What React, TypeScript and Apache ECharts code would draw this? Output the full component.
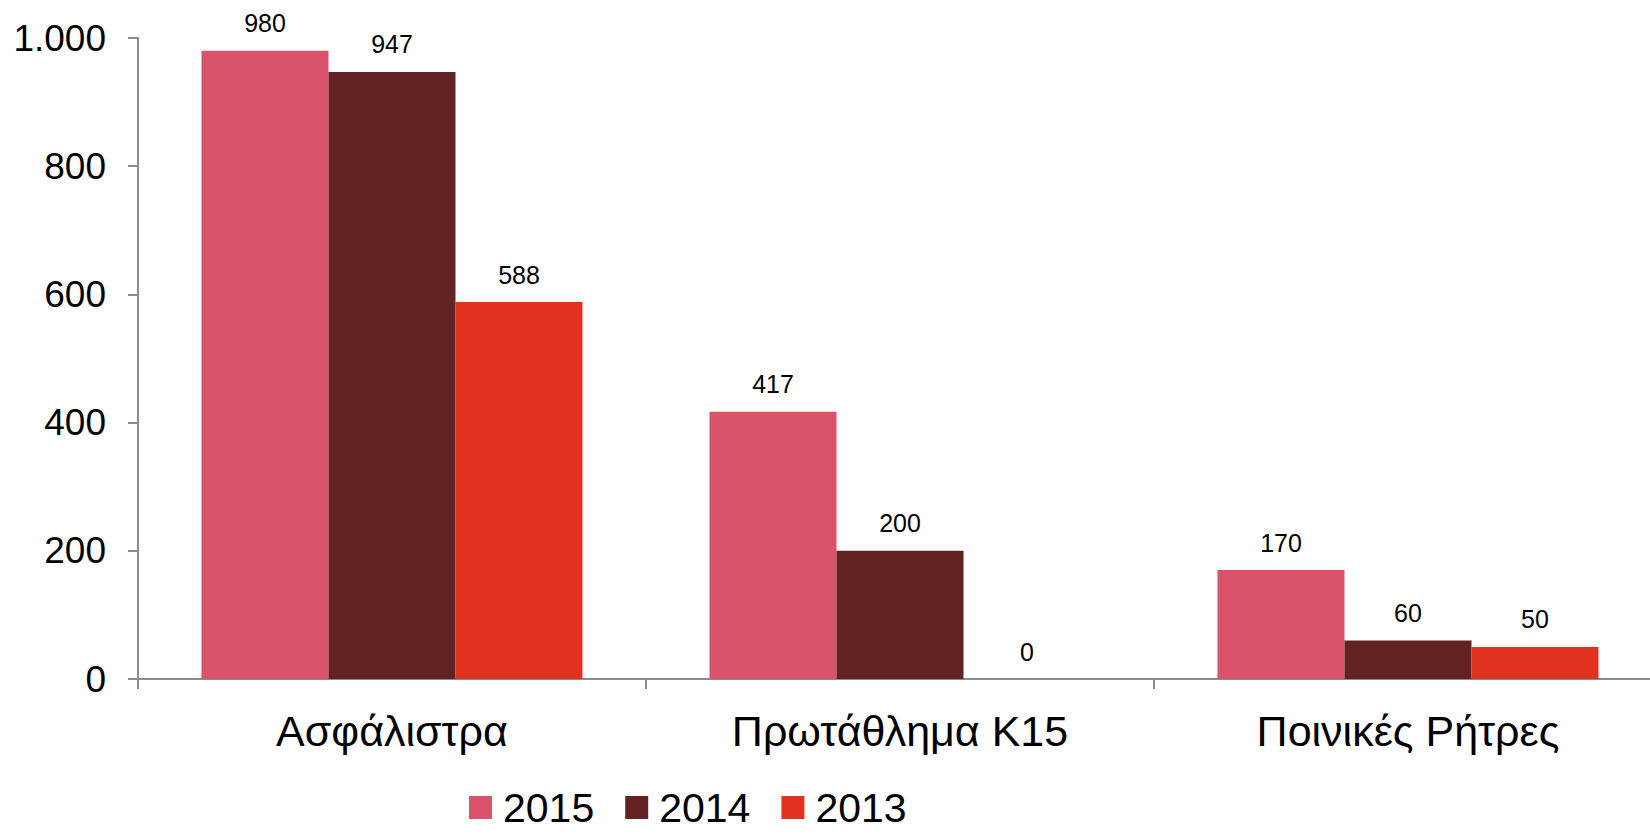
import React, { useEffect, useRef } from "react";
import * as echarts from "echarts";

const categories = ["Ασφάλιστρα", "Πρωτάθλημα Κ15", "Ποινικές Ρήτρες"];
const seriesNames = ["2015", "2014", "2013"];
const values2015 = [980, 417, 170];
const values2014 = [947, 200, 60];
const values2013 = [588, 0, 50];
const colors = ["#DB536A", "#622222", "#E0321F"];

const FONT = "'Liberation Sans', Arial, sans-serif";

export default function App() {
  const ref = useRef<HTMLDivElement>(null);
  useEffect(() => {
    if (!ref.current) return;
    const chart = echarts.init(ref.current, undefined, { renderer: "svg" });
    const data = [values2015, values2014, values2013];
    chart.setOption({
      animation: false,
      textStyle: { fontFamily: FONT },
      grid: {
        left: 138,
        width: 1524,
        top: 38,
        bottom: 156,
        containLabel: false,
        outerBoundsMode: "none",
      },
      legend: {
        data: seriesNames,
        left: 464,
        top: 782,
        padding: 5,
        itemWidth: 23,
        itemHeight: 23,
        itemGap: 31,
        icon: "rect",
        textStyle: { fontSize: 41, color: "#000", fontFamily: FONT, padding: [0, 0, 0, 6] },
      },
      xAxis: {
        type: "category",
        data: categories,
        axisLine: { lineStyle: { color: "#8C8C8C", width: 2 } },
        axisTick: { show: true, length: 10, lineStyle: { color: "#8C8C8C", width: 2 } },
        axisLabel: { fontSize: 43, color: "#000", margin: 30, fontFamily: FONT },
      },
      yAxis: {
        type: "value",
        min: 0,
        max: 1000,
        interval: 200,
        splitLine: { show: false },
        axisLine: { show: true, lineStyle: { color: "#8C8C8C", width: 2 } },
        axisTick: { show: true, length: 10, lineStyle: { color: "#8C8C8C", width: 2 } },
        axisLabel: {
          fontSize: 37,
          color: "#000",
          margin: 32,
          fontFamily: FONT,
          formatter: (v: number) => v.toLocaleString("de-DE"),
        },
      },
      series: seriesNames.map((name, i) => ({
        name,
        type: "bar",
        data: data[i],
        barGap: "0%",
        barCategoryGap: "25%",
        itemStyle: { color: colors[i] },
        label: {
          show: true,
          position: "top",
          distance: 15,
          fontSize: 25,
          color: "#000",
          fontFamily: FONT,
        },
      })),
    });
    return () => chart.dispose();
  }, []);
  return (
    <div
      ref={ref}
      style={{ position: "fixed", left: 0, top: 0, width: 1650, height: 835, background: "#fff" }}
    />
  );
}
